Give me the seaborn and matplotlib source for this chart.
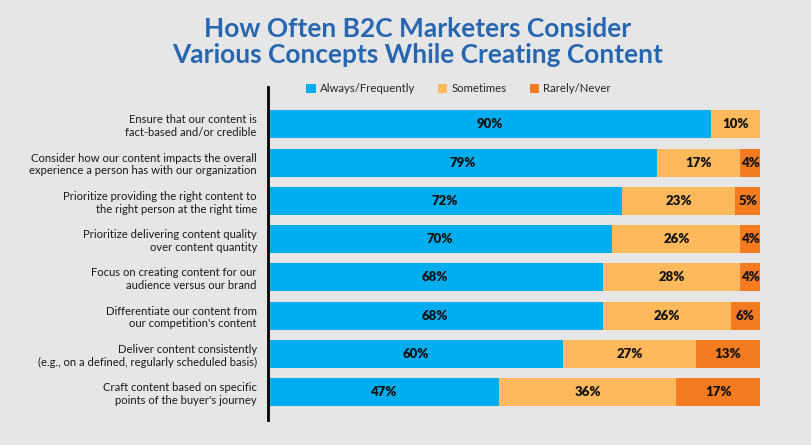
import numpy as np
import pandas as pd
import matplotlib
matplotlib.use("Agg")
import matplotlib.pyplot as plt
import seaborn as sns
from matplotlib.patches import Patch

concepts = [
    "Ensure that our content is\nfact-based and/or credible",
    "Consider how our content impacts the overall\nexperience a person has with our organization",
    "Prioritize providing the right content to\nthe right person at the right time",
    "Prioritize delivering content quality\nover content quantity",
    "Focus on creating content for our\naudience versus our brand",
    "Differentiate our content from\nour competition's content",
    "Deliver content consistently\n(e.g., on a defined, regularly scheduled basis)",
    "Craft content based on specific\npoints of the buyer's journey",
]
always = [90, 79, 72, 70, 68, 68, 60, 47]
sometimes = [10, 17, 23, 26, 28, 26, 27, 36]
rarely = [0, 4, 5, 4, 4, 6, 13, 17]

series_names = ["Always/Frequently", "Sometimes", "Rarely/Never"]
colors = ["#00aeef", "#fdb95b", "#f47b20"]
bg = "#e6e6e6"

df = pd.DataFrame({"concept": concepts, "always": always,
                   "sometimes": sometimes, "rarely": rarely})
df["cum2"] = df["always"] + df["sometimes"]
df["cum3"] = df["cum2"] + df["rarely"]

sns.set_theme(style="white")
plt.rcParams["font.family"] = ["Lato", "DejaVu Sans"]

fig = plt.figure(figsize=(8.12, 4.45), dpi=100, facecolor=bg)
ax = fig.add_axes([0.330, 0.056, 0.606, 0.748])
ax.set_facecolor(bg)

# stacked look: draw the running totals from longest to shortest
for col, c in zip(["cum3", "cum2", "always"], colors[::-1]):
    sns.barplot(data=df, x=col, y="concept", color=c, width=0.73,
                saturation=1, edgecolor="none", linewidth=0, ax=ax)

for i, row in df.iterrows():
    starts = [0, row["always"], row["cum2"]]
    vals = [row["always"], row["sometimes"], row["rarely"]]
    for s, v in zip(starts, vals):
        if v > 0:
            ax.text(s + v / 2, i, f"{v}%", ha="center", va="center",
                    fontsize=9.5, fontweight="heavy", color="#111111")

ax.set_xlim(0, 100)
ax.set_ylim(7.73, -0.97)
ax.set_xlabel("")
ax.set_ylabel("")
ax.set_xticks([])
ax.tick_params(axis="y", length=0, pad=8)
for lbl in ax.get_yticklabels():
    lbl.set_fontsize(8.1)
    lbl.set_color("#1a1a1a")
    lbl.set_multialignment("right")
for side in ["top", "right", "bottom"]:
    ax.spines[side].set_visible(False)
ax.spines["left"].set_color("black")
ax.spines["left"].set_linewidth(2)

fig.text(0.514, 0.905, "How Often B2C Marketers Consider\nVarious Concepts While Creating Content",
         ha="center", va="center", fontsize=18.9, fontweight="bold",
         color="#2767b1", linespacing=1.1)

handles = [Patch(facecolor=c, edgecolor="none") for c in colors]
fig.legend(handles, series_names, loc="center", bbox_to_anchor=(0.565, 0.80),
           ncol=3, frameon=False, fontsize=8.2, handlelength=0.8,
           handleheight=0.8, handletextpad=0.4, columnspacing=2.0)

fig.savefig("out.png", dpi=100, facecolor=bg)
